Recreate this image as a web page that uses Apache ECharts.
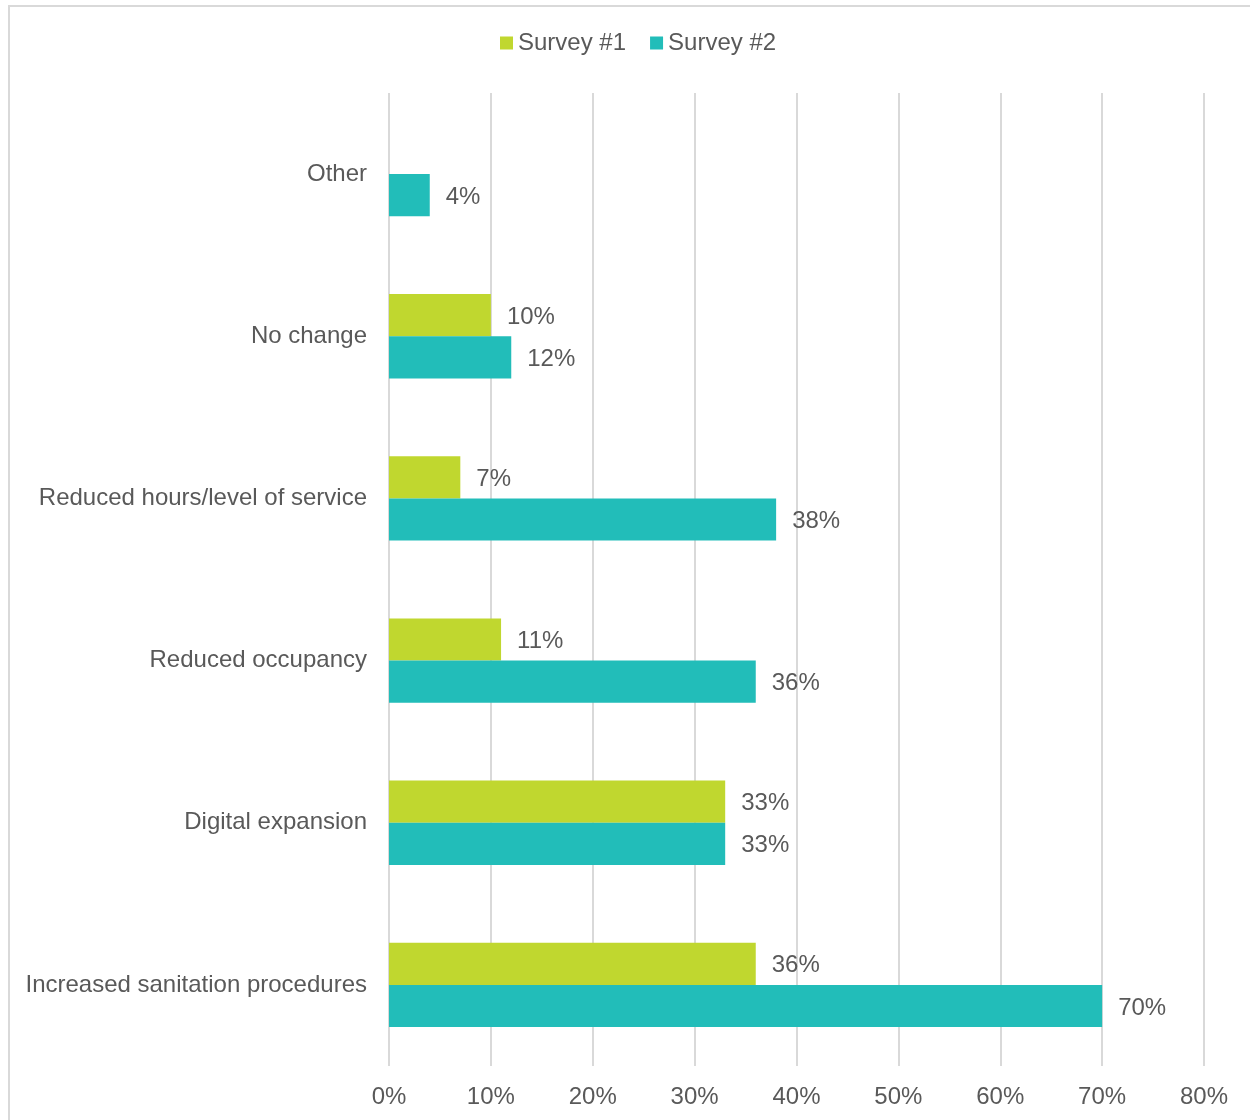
<!DOCTYPE html>
<html>
<head>
<meta charset="utf-8">
<script src="https://cdn.jsdelivr.net/npm/echarts@6/dist/echarts.min.js"></script>
<style>
html,body{margin:0;padding:0;background:#fff;}
#chart{width:1250px;height:1120px;}
</style>
</head>
<body>
<div id="chart"></div>
<script>
const categories = ['Increased sanitation procedures','Digital expansion','Reduced occupancy','Reduced hours/level of service','No change','Other'];
const survey1 = [36, 33, 11, 7, 10, null];
const survey2 = [70, 33, 36, 38, 12, 4];
const xTicks = [0, 10, 20, 30, 40, 50, 60, 70, 80];

const textColor = '#595959';
const fontFamily = '"Liberation Sans", Arial, sans-serif';
const fs = 24;

const chart = echarts.init(document.getElementById('chart'), null, {renderer:'canvas'});
const labelCfg = {
  show: true, position: 'right', distance: 16, offset: [0, 2],
  formatter: p => p.value + '%',
  color: textColor, fontSize: fs, fontFamily: fontFamily
};
chart.setOption({
  animation: false,
  graphic: [{
    type: 'rect', shape: {x: 9, y: 6, width: 1300, height: 1200},
    style: {fill: 'none', stroke: '#d9d9d9', lineWidth: 2}, silent: true
  }],
  legend: {
    data: ['Survey #1', 'Survey #2'],
    top: 26, left: 495,
    itemWidth: 13, itemHeight: 13, itemGap: 24,
    icon: 'rect',
    textStyle: {color: textColor, fontSize: fs, fontFamily: fontFamily}
  },
  grid: {left: 389, right: 46, top: 93, bottom: 54, containLabel: false},
  xAxis: {
    type: 'value', min: xTicks[0], max: xTicks[xTicks.length-1], interval: 10,
    axisLine: {show: false}, axisTick: {show: false},
    splitLine: {show: true, lineStyle: {color: '#d9d9d9', width: 2}},
    axisLabel: {formatter: v => v + '%', color: textColor, fontSize: fs, fontFamily: fontFamily, margin: 19}
  },
  yAxis: {
    type: 'category', data: categories,
    axisLine: {show: false}, axisTick: {show: false},
    axisLabel: {color: textColor, fontSize: fs, fontFamily: fontFamily, margin: 22}
  },
  series: [
    {name: 'Survey #1', type: 'bar', data: survey1, barGap: '0%', barCategoryGap: '48%',
     itemStyle: {color: '#C0D72F'}, label: labelCfg},
    {name: 'Survey #2', type: 'bar', data: survey2, barGap: '0%', barCategoryGap: '48%',
     itemStyle: {color: '#22BDB9'}, label: labelCfg}
  ]
});
</script>
</body>
</html>
